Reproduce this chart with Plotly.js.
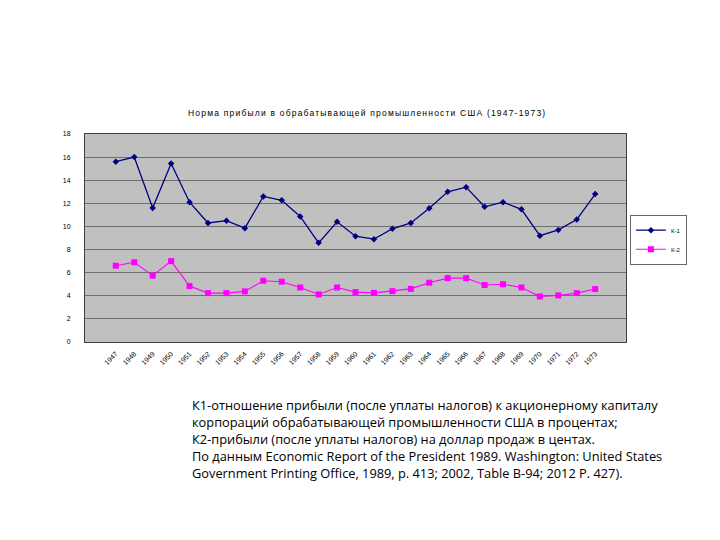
<!DOCTYPE html>
<html>
<head>
<meta charset="utf-8">
<script src="https://cdn.plot.ly/plotly-3.0.1.min.js"></script>
<style>
  html, body { margin: 0; padding: 0; background: #fff; }
  #chart { width: 720px; height: 540px; }
  #chart .gtitle { letter-spacing: 1.2px; }
</style>
</head>
<body>
<div id="chart"></div>
<script>
  // годы 1947–1973
  const years = ['1947', '1948', '1949', '1950', '1951', '1952', '1953', '1954', '1955',
    '1956', '1957', '1958', '1959', '1960', '1961', '1962', '1963', '1964', '1965',
    '1966', '1967', '1968', '1969', '1970', '1971', '1972', '1973'];

  // К-1: прибыль на акционерный капитал, %
  const k1 = [15.6, 16.0, 11.6, 15.45, 12.1, 10.3, 10.5, 9.85, 12.6,
    12.26, 10.87, 8.58, 10.4, 9.16, 8.9, 9.8, 10.3, 11.57, 13.0,
    13.4, 11.7, 12.1, 11.48, 9.2, 9.7, 10.6, 12.8];

  // К-2: прибыль на доллар продаж, центы
  const k2 = [6.6, 6.9, 5.74, 7.0, 4.84, 4.23, 4.23, 4.38, 5.3,
    5.22, 4.72, 4.12, 4.72, 4.32, 4.25, 4.4, 4.6, 5.13, 5.53,
    5.53, 4.93, 5.0, 4.72, 3.94, 4.03, 4.23, 4.58];

  const yTicks = [0, 2, 4, 6, 8, 10, 12, 14, 16, 18];

  const chartTitle = 'Норма прибыли в обрабатывающей промышленности США (1947-1973)';

  const noteLines = [
    'К1-отношение прибыли (после уплаты налогов) к акционерному капиталу',
    'корпораций обрабатывающей промышленности США в процентах;',
    'К2-прибыли (после уплаты налогов) на доллар продаж в центах.',
    'По данным Economic Report of the President 1989. Washington: United States',
    'Government Printing Office, 1989, p. 413; 2002, Table B-94; 2012 Р. 427).'
  ];

  const traces = [
    {
      type: 'scatter',
      mode: 'lines+markers',
      name: 'К-1',
      x: years,
      y: k1,
      line: { color: '#000080', width: 1.3 },
      marker: { symbol: 'diamond', size: 5, color: '#000080' }
    },
    {
      type: 'scatter',
      mode: 'lines+markers',
      name: 'К-2',
      x: years,
      y: k2,
      line: { color: '#ff00ff', width: 1.1 },
      marker: { symbol: 'square', size: 6, color: '#ff00ff' }
    }
  ];

  const layout = {
    width: 720,
    height: 540,
    paper_bgcolor: '#ffffff',
    plot_bgcolor: '#c0c0c0',
    font: { family: 'Liberation Sans, Arial, sans-serif', color: '#000' },
    margin: { l: 85, r: 94, t: 134, b: 198 },
    title: {
      text: chartTitle,
      font: { size: 8.5, color: '#000' },
      xref: 'container',
      yref: 'container',
      x: 0.51,
      xanchor: 'center',
      y: 1 - 113 / 540,
      yanchor: 'middle'
    },
    showlegend: true,
    legend: {
      x: 1.008,
      xanchor: 'left',
      y: 0.49,
      yanchor: 'middle',
      bgcolor: '#ffffff',
      bordercolor: '#000',
      borderwidth: 0.6,
      font: { size: 6, color: '#000' },
      tracegroupgap: 0,
      itemwidth: 30
    },
    xaxis: {
      type: 'category',
      tickangle: -45,
      tickfont: { size: 7, color: '#000' },
      ticklabelstandoff: 4,
      showgrid: false,
      showline: true,
      linecolor: '#404040',
      linewidth: 1,
      mirror: true,
      ticks: '',
      zeroline: false
    },
    yaxis: {
      range: [0, 18],
      tickvals: yTicks,
      ticktext: yTicks.map(String),
      tickfont: { size: 7, color: '#000' },
      ticklabelstandoff: 12,
      showgrid: true,
      gridcolor: '#6e6e6e',
      gridwidth: 1,
      showline: true,
      linecolor: '#404040',
      linewidth: 1,
      mirror: true,
      ticks: '',
      zeroline: false
    },
    annotations: noteLines.map((line, i) => ({
      text: line,
      xref: 'paper',
      yref: 'paper',
      x: (190 - 85) / 541,
      y: -(63 + i * 17) / 208,
      xanchor: 'left',
      yanchor: 'middle',
      showarrow: false,
      align: 'left',
      font: { family: 'Open Sans, sans-serif', size: 12.8, color: '#000' }
    }))
  };

  Plotly.newPlot('chart', traces, layout, { displayModeBar: false, staticPlot: true });
</script>
</body>
</html>
